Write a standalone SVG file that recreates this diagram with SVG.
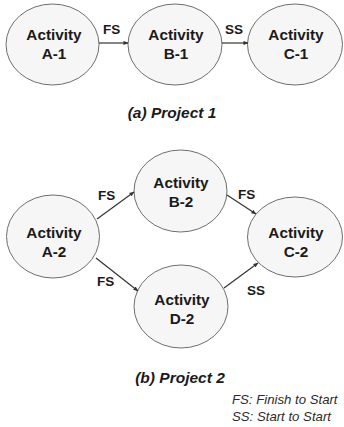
<svg xmlns="http://www.w3.org/2000/svg" width="344" height="427" viewBox="0 0 344 427">
<defs>
<style>
.node ellipse{fill:#f6f6f6;stroke:#6e6e6e;stroke-width:1}
.node text{font-family:"Liberation Sans",Arial,sans-serif;font-weight:bold;font-size:15.3px;fill:#1a1a1a;text-anchor:middle}
.edge line{stroke:#333;stroke-width:1.2;marker-end:url(#ah)}
.lbl{font-family:"Liberation Sans",Arial,sans-serif;font-weight:bold;font-size:13.5px;fill:#1a1a1a}
.cap{font-family:"Liberation Sans",Arial,sans-serif;font-weight:bold;font-style:italic;font-size:15.5px;fill:#1a1a1a;text-anchor:middle}
.leg{font-family:"Liberation Sans",Arial,sans-serif;font-style:italic;font-size:13.2px;fill:#2a2a2a}
</style>
<marker id="ah" viewBox="0 0 6 6" refX="5.5" refY="3" markerWidth="5" markerHeight="5" orient="auto" markerUnits="userSpaceOnUse">
<path d="M0,0.5 L6,3 L0,5.5 z" fill="#333"/>
</marker>
</defs>
<g id="A-1" class="node"><ellipse cx="52.5" cy="44.5" rx="46.5" ry="40.5"/><text x="54" y="40">Activity</text><text x="54" y="59">A-1</text></g>
<g id="B-1" class="node"><ellipse cx="175" cy="44.5" rx="47" ry="40.5"/><text x="176" y="40">Activity</text><text x="176" y="59">B-1</text></g>
<g id="C-1" class="node"><ellipse cx="295" cy="44.5" rx="47.5" ry="40.5"/><text x="296" y="40">Activity</text><text x="296" y="59">C-1</text></g>
<g id="A-2" class="node"><ellipse cx="53" cy="236.5" rx="46.5" ry="41.5"/><text x="54" y="238">Activity</text><text x="54" y="257">A-2</text></g>
<g id="B-2" class="node"><ellipse cx="180.5" cy="191" rx="46.5" ry="41"/><text x="181" y="188">Activity</text><text x="181" y="207">B-2</text></g>
<g id="C-2" class="node"><ellipse cx="295" cy="237" rx="47.5" ry="40"/><text x="296" y="238">Activity</text><text x="296" y="257">C-2</text></g>
<g id="D-2" class="node"><ellipse cx="181" cy="306.5" rx="47" ry="41.5"/><text x="182" y="305">Activity</text><text x="182" y="324">D-2</text></g>
<g id="connectors" class="edge">
<line x1="99" y1="43" x2="128" y2="43"/>
<line x1="222" y1="43" x2="248" y2="43"/>
<line x1="97" y1="219" x2="134" y2="192"/>
<line x1="227" y1="195" x2="256" y2="214"/>
<line x1="96" y1="258" x2="138" y2="291"/>
<line x1="224" y1="288" x2="258" y2="263"/>
</g>
<g id="labels">
<text class="lbl" x="103" y="34">FS</text>
<text class="lbl" x="225" y="34">SS</text>
<text class="lbl" x="98" y="200">FS</text>
<text class="lbl" x="238" y="199">FS</text>
<text class="lbl" x="97" y="286">FS</text>
<text class="lbl" x="247" y="295">SS</text>
</g>
<text class="cap" x="172" y="118">(a) Project 1</text>
<text class="cap" x="180" y="383">(b) Project 2</text>
<text class="leg" x="232" y="404">FS: Finish to Start</text>
<text class="leg" x="232" y="421">SS: Start to Start</text>
</svg>
